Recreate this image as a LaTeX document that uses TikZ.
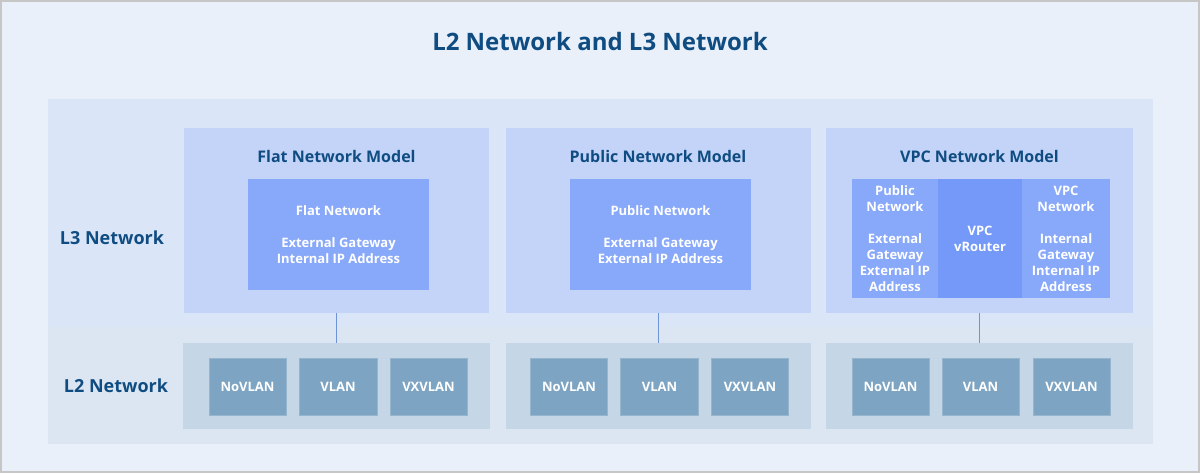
\documentclass[tikz,border=0pt]{standalone}
\usepackage{fontspec}
\setmainfont{Open Sans}[BoldFont={Open Sans Bold}]
\definecolor{bgc}{HTML}{E9F0FA}
\definecolor{framec}{HTML}{C6C6C6}
\definecolor{upc}{HTML}{DAE5F8}
\definecolor{lowc}{HTML}{DCE6F2}
\definecolor{modelc}{HTML}{C3D4F8}
\definecolor{innerc}{HTML}{88A8F9}
\definecolor{routerc}{HTML}{7499F8}
\definecolor{ltwoc}{HTML}{C5D6E6}
\definecolor{vlanc}{HTML}{7DA4C2}
\definecolor{txtc}{HTML}{0F4C81}
\definecolor{linec}{HTML}{6E94D6}
\tikzset{
  box/.style={inner sep=0pt, outer sep=0pt, draw=none},
  modelbox/.style={box, fill=modelc, minimum width=305pt, minimum height=185pt},
  innerbox/.style={box, fill=innerc, text=white, font=\bfseries\fontsize{13}{16}\selectfont, align=center},
  ltwobox/.style={box, fill=ltwoc, minimum width=307pt, minimum height=86pt},
  vlanbox/.style={box, fill=vlanc, draw=vlanc!80!white, line width=0.8pt, text=white, minimum width=77pt, minimum height=57pt, font=\bfseries\fontsize{13}{16}\selectfont},
  mtitle/.style={text=txtc, font=\bfseries\fontsize{16}{19}\selectfont},
  side/.style={text=txtc, font=\bfseries\fontsize{18}{22}\selectfont},
  conn/.style={draw=linec, line width=1pt},
}
\begin{document}
\begin{tikzpicture}[x=1pt,y=-1pt]
\useasboundingbox (0,0) rectangle (1200,473);
\fill[framec] (0,0) rectangle (1200,473);
\fill[bgc] (2,2) rectangle (1198,470.5);
\node[text=txtc, font=\bfseries\fontsize{24}{28}\selectfont] (title) at (600,42) {L2 Network and L3 Network};
% big panel
\fill[upc] (48,99) rectangle (1153,327);
\fill[lowc] (48,327) rectangle (1153,444);
\node[side] (l3) at (112,238) {L3 Network};
\node[side] (l2) at (116,386) {L2 Network};
% model boxes
\node[modelbox] (flat) at (336.5,220.5) {};
\node[modelbox] (pub) at (658,220.5) {};
\node[modelbox, minimum width=307pt] (vpc) at (979.5,220.5) {};
\node[mtitle] (flatt) at (336.5,157) {Flat Network Model};
\node[mtitle] (pubt) at (658,157) {Public Network Model};
\node[mtitle] (vpct) at (979.5,157) {VPC Network Model};
% inner boxes
\node[innerbox, minimum width=181pt, minimum height=111pt] (flati) at (338.5,234.5)
  {Flat Network\\[16pt]External Gateway\\Internal IP Address};
\node[innerbox, minimum width=181pt, minimum height=111pt] (pubi) at (660.5,234.5)
  {Public Network\\[16pt]External Gateway\\External IP Address};
\node[innerbox, minimum width=86pt, minimum height=119pt] (vpca) at (895,238.5)
  {Public\\Network\\[16pt]External\\Gateway\\External IP\\Address};
\node[innerbox, fill=routerc, minimum width=84pt, minimum height=119pt] (vpcb) at (980,238.5)
  {VPC\\vRouter};
\node[innerbox, minimum width=88pt, minimum height=119pt] (vpcc) at (1066,238.5)
  {VPC\\Network\\[16pt]Internal\\Gateway\\Internal IP\\Address};
% L2 boxes
\node[ltwobox] (flatl) at (336.5,386) {};
\node[ltwobox, minimum width=305pt] (publ) at (658,386) {};
\node[ltwobox] (vpcl) at (979.5,386) {};
% vlan boxes
\node[vlanbox] (f1) at (247.5,386.5) {NoVLAN};
\node[vlanbox, minimum width=78pt] (f2) at (338,386.5) {VLAN};
\node[vlanbox] (f3) at (428.5,386.5) {VXVLAN};
\node[vlanbox] (p1) at (569,386.5) {NoVLAN};
\node[vlanbox, minimum width=78pt] (p2) at (659.5,386.5) {VLAN};
\node[vlanbox] (p3) at (750,386.5) {VXVLAN};
\node[vlanbox] (v1) at (890.5,386.5) {NoVLAN};
\node[vlanbox] (v2) at (980.5,386.5) {VLAN};
\node[vlanbox] (v3) at (1071.5,386.5) {VXVLAN};
% connectors
\draw[conn] (flat.south) -- (flatl.north);
\draw[conn] (pub.south) -- (publ.north);
\draw[conn] (vpc.south) -- (vpcl.north);
\end{tikzpicture}
\end{document}
